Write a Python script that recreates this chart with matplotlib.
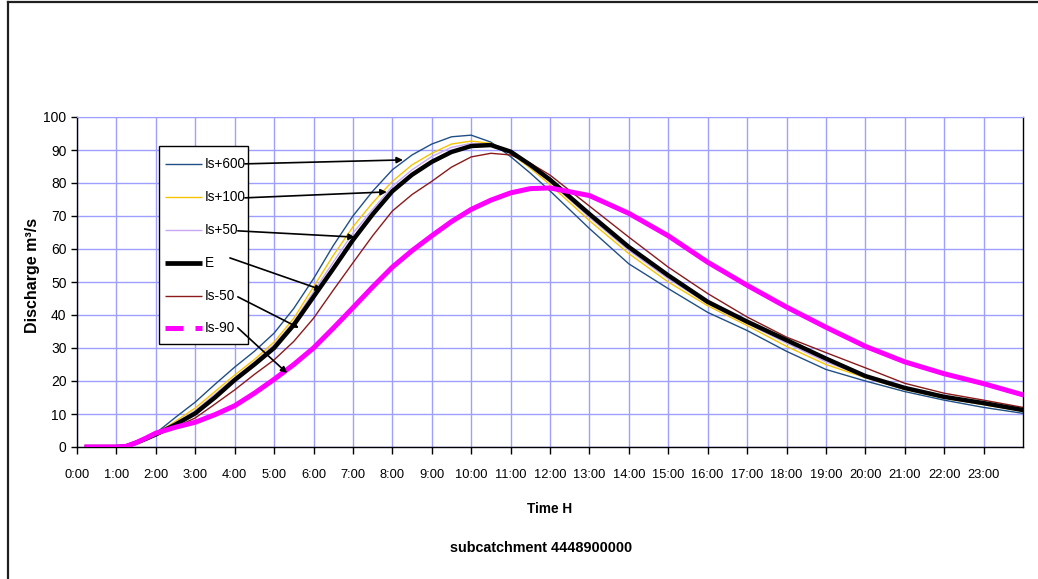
import matplotlib
matplotlib.use("Agg")
import matplotlib.pyplot as plt
from matplotlib.lines import Line2D
from matplotlib.patches import Rectangle

# ---------------- data ----------------
hours = [0.25, 0.5, 1, 1.25, 1.5, 1.75, 2, 2.5, 3, 3.5, 4, 4.5, 5, 5.5, 6, 6.5, 7, 7.5,
         8, 8.5, 9, 9.5, 10, 10.5, 11, 11.5, 12, 13, 14, 15, 16, 17, 18, 19, 20, 21, 22, 23, 24]

ls_p600 = [0, 0, 0, 0.3, 1.5, 2.8, 4.2, 9, 13.6, 19, 24.2, 29, 34.5, 42, 51, 61, 70, 77.5,
           84, 88.5, 91.8, 94, 94.5, 92.4, 88, 83, 77.6, 66.2, 55.5, 48, 40.8, 35.3, 29,
           23.5, 20, 16.8, 14.2, 12, 10.2]
ls_p100 = [0, 0, 0, 0.3, 1.4, 2.6, 4, 7.8, 11.8, 16.8, 21.8, 26.5, 31.8, 39, 48.5, 58, 66.7, 74,
           80.5, 85.5, 89, 91.8, 92.7, 92, 89, 84.5, 79.5, 68.6, 58.6, 50, 42.8, 36.8, 30.5,
           25, 21, 17.4, 14.8, 12.8, 10.8]
ls_p50 = [0, 0, 0, 0.2, 1.3, 2.5, 3.9, 7.3, 11, 16, 21, 25.8, 31, 38, 47, 56, 64.8, 72,
          79, 84, 88, 90.8, 92, 91.8, 89.2, 85, 80.3, 69.6, 59.6, 51, 43.4, 37.4, 31.5,
          25.8, 21.3, 17.7, 15, 13, 11]
e_ref = [0, 0, 0, 0.2, 1.3, 2.5, 3.8, 6.8, 10.2, 15, 20.3, 25, 30, 37, 45.5, 54, 62.7, 70.5,
         77.5, 82.5, 86.4, 89.4, 91.2, 91.5, 89.5, 85.5, 81, 70.6, 60.6, 52, 44, 38, 32.4,
         26.8, 21.5, 17.9, 15.2, 13.3, 11.2]
ls_m50 = [0, 0, 0, 0.2, 1.2, 2.3, 3.5, 6, 8.8, 13, 17.3, 22, 26.4, 32, 39, 47.5, 55.8, 64,
          71.5, 76.5, 80.5, 84.8, 87.9, 89, 88.5, 86, 82.4, 73, 63.6, 54.5, 46.5, 39.4, 33.3,
          28.6, 24, 19.3, 16.3, 14.2, 12]
ls_m90 = [0, 0, 0, 0.2, 1.3, 2.7, 4.2, 6, 7.5, 9.8, 12.5, 16.3, 20.5, 25, 30, 36, 42.2, 48.5,
          54.5, 59.5, 64, 68.3, 72, 74.8, 77, 78.3, 78.5, 76.2, 70.8, 64, 56, 49, 42.4,
          36.3, 30.5, 25.8, 22.2, 19.2, 15.8]

labels = ["Is+600", "Is+100", "Is+50", "E", "Is-50", "Is-90"]
x_ticks = list(range(0, 24))
x_ticklabels = [f"{h}:00" for h in x_ticks]
y_ticks = list(range(0, 101, 10))

plt.rcParams['font.family'] = ['Liberation Sans', 'DejaVu Sans']

W, H = 1038, 579
fig = plt.figure(figsize=(W / 100, H / 100), dpi=100)
fig.patch.set_facecolor("white")


def fx(px):
    return px / W


def fy(py):
    return 1 - py / H


L, R, T, B = 77, 1023, 117, 447
ax = fig.add_axes([fx(L), fy(B), (R - L) / W, (B - T) / H])

grid_c = "#9f9fff"
ax.set_xlim(0, 24)
ax.set_ylim(0, 100)
ax.set_xticks(x_ticks)
ax.set_xticklabels(x_ticklabels, fontsize=9.3)
ax.set_yticks(y_ticks)
ax.set_yticklabels([str(v) for v in y_ticks], fontsize=10)
ax.grid(True, color=grid_c, lw=1.0)
ax.set_axisbelow(True)
ax.tick_params(axis='x', direction='out', length=5, width=1, pad=10.5, colors='black')
ax.tick_params(axis='y', direction='out', length=4, width=1, pad=3.5, colors='black')
ax.spines['top'].set_color(grid_c)
for s in ['left', 'bottom', 'right']:
    ax.spines[s].set_color('black')
    ax.spines[s].set_linewidth(1.0)

c_blue = "#1f4f85"
c_yel = "#f5c400"
c_lav = "#c8a8f2"
c_black = "#000000"
c_brown = "#8b1a1a"
c_mag = "#ff00ff"

series = [(ls_p600, c_blue, 1.0, 2),
          (ls_p100, c_yel, 1.0, 2),
          (ls_p50, c_lav, 1.0, 2),
          (e_ref, c_black, 3.2, 3),
          (ls_m50, c_brown, 1.0, 2),
          (ls_m90, c_mag, 3.6, 4)]
for vals, c, lw, z in series:
    ax.plot(hours, vals, color=c, lw=lw, zorder=z)

# ---- legend box drawn by hand (figure pixel layout), inside the axes z-order ----
lx0, ly0, lx1, ly1 = 159, 146, 248, 344
ax.add_patch(Rectangle((fx(lx0), fy(ly1)), (lx1 - lx0) / W, (ly1 - ly0) / H,
                       transform=fig.transFigure, facecolor='white', edgecolor='black',
                       lw=1.0, zorder=10, clip_on=False))
rows = [164, 197, 230, 263, 295.5, 328]
handle_styles = [dict(lw=1.0), dict(lw=1.0), dict(lw=1.0), dict(lw=3.4),
                 dict(lw=1.0), dict(lw=3.6, linestyle=(0, (3.6, 2.4)))]
for (vals, c, lw, z), lab, ry, hs in zip(series, labels, rows, handle_styles):
    ax.add_line(Line2D([fx(165), fx(202)], [fy(ry), fy(ry)], color=c,
                       transform=fig.transFigure, zorder=11, solid_capstyle='butt',
                       dash_capstyle='butt', clip_on=False, **hs))
    ax.text(fx(205), fy(ry), lab, ha='left', va='center', fontsize=9.8, zorder=12,
            transform=fig.transFigure)

# arrows from legend entries to curves (data coords: tail, head)
arrows = [((4.26, 85.8), (8.27, 87.0)),
          ((4.26, 75.5), (7.86, 77.3)),
          ((4.08, 65.5), (7.05, 63.6)),
          ((3.88, 57.3), (6.21, 47.6)),
          ((4.08, 45.5), (5.63, 36.1)),
          ((4.08, 36.1), (5.33, 22.4))]
for tail, head in arrows:
    ax.annotate("", xy=head, xytext=tail, zorder=13,
                arrowprops=dict(arrowstyle='-|>', color='black', lw=1.2,
                                mutation_scale=9, shrinkA=0, shrinkB=0))

fig.text(fx(33), fy(275), "Discharge m³/s", rotation=90, ha='center', va='center',
         fontsize=11.5, fontweight='bold')
fig.text(fx(550), fy(509), "Time H", ha='center', va='center',
         fontsize=9.8, fontweight='bold')
fig.text(fx(541), fy(548), "subcatchment 4448900000", ha='center', va='center',
         fontsize=10.4, fontweight='bold')

# outer chart frame (left & top edges visible)
fig.add_artist(Line2D([fx(7.5), fx(7.5)], [0, fy(2)], color='#202020', lw=1.6,
                      transform=fig.transFigure))
fig.add_artist(Line2D([fx(7.5), 1], [fy(2), fy(2)], color='#202020', lw=1.6,
                      transform=fig.transFigure))

fig.savefig("out.png", dpi=100, facecolor="white")
